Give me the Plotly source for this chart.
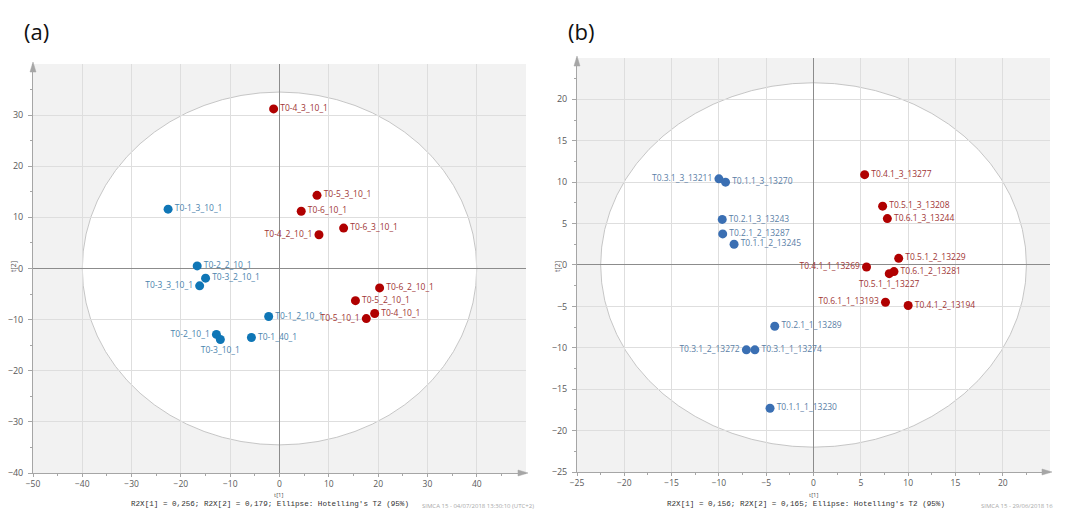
import plotly.graph_objects as go

# ---------------- data ----------------
a_names = ["T0-4_3_10_1", "T0-5_3_10_1", "T0-6_10_1", "T0-4_2_10_1", "T0-6_3_10_1",
           "T0-6_2_10_1", "T0-5_2_10_1", "T0-4_10_1", "T0-5_10_1",
           "T0-1_3_10_1", "T0-2_2_10_1", "T0-3_2_10_1", "T0-3_3_10_1", "T0-1_2_10_1",
           "T0-2_10_1", "T0-3_10_1", "T0-1_40_1"]
a_t1 = [-1.2, 7.6, 4.4, 8.0, 13.0, 20.3, 15.4, 19.3, 17.6,
        -22.6, -16.7, -15.0, -16.2, -2.2, -12.8, -12.0, -5.7]
a_t2 = [31.2, 14.3, 11.2, 6.6, 7.9, -3.8, -6.3, -8.8, -9.8,
        11.6, 0.5, -1.9, -3.4, -9.4, -12.9, -13.9, -13.5]
a_group = ["r"] * 9 + ["b"] * 8
a_textpos = ["middle right", "middle right", "middle right", "middle left", "middle right",
             "middle right", "middle right", "middle right", "middle left",
             "middle right", "middle right", "middle right", "middle left", "middle right",
             "middle left", "bottom center", "middle right"]
a_ellipse = (40.0, 34.5)
a_note = "R2X[1] = 0,256; R2X[2] = 0,179; Ellipse: Hotelling's T2 (95%)"
a_stamp = "SIMCA 15 - 04/07/2018 13:30:10 (UTC+2)"

b_names = ["T0.4.1_3_13277", "T0.5.1_3_13208", "T0.6.1_3_13244", "T0.5.1_2_13229",
           "T0.4.1_1_13269", "T0.6.1_2_13281", "T0.5.1_1_13227", "T0.6.1_1_13193",
           "T0.4.1_2_13194",
           "T0.3.1_3_13211", "T0.1.1_3_13270", "T0.2.1_3_13243", "T0.2.1_2_13287",
           "T0.1.1_2_13245", "T0.2.1_1_13289", "T0.3.1_2_13272", "T0.3.1_1_13274",
           "T0.1.1_1_13230"]
b_t1 = [5.4, 7.3, 7.8, 9.0, 5.6, 8.5, 8.0, 7.6, 10.0,
        -10.0, -9.3, -9.65, -9.6, -8.4, -4.1, -7.1, -6.2, -4.6]
b_t2 = [10.9, 7.1, 5.6, 0.8, -0.25, -0.8, -1.05, -4.5, -4.9,
        10.4, 10.0, 5.5, 3.75, 2.5, -7.4, -10.25, -10.25, -17.3]
b_group = ["r"] * 9 + ["b"] * 9
b_textpos = ["middle right", "middle right", "middle right", "middle right",
             "middle left", "middle right", "bottom center", "middle left",
             "middle right",
             "middle left", "middle right", "middle right", "middle right",
             "middle right", "middle right", "middle left", "middle right",
             "middle right"]
b_ellipse = (22.5, 22.0)
b_note = "R2X[1] = 0,156; R2X[2] = 0,165; Ellipse: Hotelling's T2 (95%)"
b_stamp = "SIMCA 15 - 29/06/2018 16"

# ---------------- styling ----------------
W, H = 1068, 510
FONT = "Open Sans"
MONO = "Liberation Mono"
BG = "#f2f2f2"
GRID = "#dedede"
AXIS = "#a6a6a6"
ZERO = "#8c8c8c"

panels = [
    dict(names=a_names, x=a_t1, y=a_t2, g=a_group, tp=a_textpos, ell=a_ellipse,
         note=a_note, stamp=a_stamp, tag="(a)",
         px=(33, 526), py=(64, 473), xr=[-50, 50], yr=[-40, 40], dt=10, mdt=5,
         cols={"b": "#0f76b6", "r": "#b00000"}, tcols={"b": "#4b84ad", "r": "#a03535"},
         tagx=22, ytitx=13, notex=270, t1x=279, stampx=536, stampanchor="right"),
    dict(names=b_names, x=b_t1, y=b_t2, g=b_group, tp=b_textpos, ell=b_ellipse,
         note=b_note, stamp=b_stamp, tag="(b)",
         px=(577, 1050), py=(58, 472), xr=[-25, 25], yr=[-25, 25], dt=5, mdt=2.5,
         cols={"b": "#3a6fb3", "r": "#b00000"}, tcols={"b": "#5a7ea6", "r": "#a03535"},
         tagx=566, ytitx=557, notex=806, t1x=814, stampx=979, stampanchor="left"),
]

fig = go.Figure()
layout = dict(width=W, height=H, margin=dict(l=0, r=0, t=0, b=0, autoexpand=False),
              paper_bgcolor="white", showlegend=False,
              font=dict(family=FONT, size=9, color="#595959"))
shapes, annotations = [], []

for i, p in enumerate(panels):
    xa = "x" if i == 0 else "x2"
    ya = "y" if i == 0 else "y2"
    xkey = "xaxis" if i == 0 else "xaxis2"
    ykey = "yaxis" if i == 0 else "yaxis2"
    for grp in ["b", "r"]:
        idx = [k for k, gg in enumerate(p["g"]) if gg == grp]
        fig.add_trace(go.Scatter(
            x=[p["x"][k] for k in idx], y=[p["y"][k] for k in idx],
            text=[p["names"][k] for k in idx],
            textposition=[p["tp"][k] for k in idx],
            mode="markers+text", xaxis=xa, yaxis=ya,
            marker=dict(size=9, color=p["cols"][grp]),
            textfont=dict(family=FONT, size=8.5, color=p["tcols"][grp]),
            cliponaxis=False, hoverinfo="skip"))
    dom_x = [p["px"][0] / W, p["px"][1] / W]
    dom_y = [1 - p["py"][1] / H, 1 - p["py"][0] / H]
    common = dict(showgrid=True, gridcolor=GRID, gridwidth=1,
                  zeroline=True, zerolinecolor=ZERO, zerolinewidth=1,
                  showline=True, linecolor=AXIS, linewidth=1,
                  ticks="outside", tickcolor=AXIS,
                  minor=dict(dtick=p["mdt"], ticks="outside", ticklen=2, tickcolor=AXIS,
                             showgrid=False),
                  dtick=p["dt"], fixedrange=True, automargin=False)
    layout[xkey] = dict(domain=dom_x, range=[p["xr"][0], p["xr"][1] - 0.01], anchor=ya,
                        ticklen=3, ticklabelstandoff=0,
                        tickfont=dict(family=FONT, size=8.5, color="#595959"), **common)
    layout[ykey] = dict(domain=dom_y, range=[p["yr"][0], p["yr"][1] - 0.01], anchor=xa,
                        ticklen=4, ticklabelstandoff=3,
                        tickfont=dict(family=FONT, size=9, color="#595959"), **common)
    # Hotelling ellipse
    ex, ey = p["ell"]
    shapes.append(dict(type="circle", xref=xa, yref=ya, x0=-ex, x1=ex, y0=-ey, y1=ey,
                       fillcolor="white", line=dict(color="#c0c0c0", width=0.9),
                       layer="below"))
    # axis arrows
    shapes.append(dict(type="path", xref=xa + " domain", yref=ya + " domain",
                       xsizemode="pixel", ysizemode="pixel", xanchor=1, yanchor=0,
                       path="M 2 0 L -8 -3 L -8 3 Z", fillcolor=AXIS,
                       line=dict(color=AXIS, width=0.5)))
    shapes.append(dict(type="path", xref=xa + " domain", yref=ya + " domain",
                       xsizemode="pixel", ysizemode="pixel", xanchor=0, yanchor=1,
                       path="M 0 2 L -3 -8 L 3 -8 Z", fillcolor=AXIS,
                       line=dict(color=AXIS, width=0.5)))
    # panel tag
    annotations.append(dict(text=p["tag"], xref="paper", yref="paper",
                            x=p["tagx"] / W, y=1 - 31 / H, xanchor="left", yanchor="middle",
                            showarrow=False, font=dict(family=FONT, size=22, color="#111111")))
    # axis titles
    annotations.append(dict(text="t[1]", xref="paper", yref="paper",
                            x=p["t1x"] / W, y=1 - 494.5 / H, xanchor="center",
                            yanchor="middle", showarrow=False, borderpad=0,
                            font=dict(family=FONT, size=6, color="#555555")))
    annotations.append(dict(text="t[2]", xref="paper", yref="paper",
                            x=p["ytitx"] / W, y=1 - 267 / H, xanchor="center",
                            yanchor="middle", textangle=-90,
                            showarrow=False, font=dict(family=FONT, size=7, color="#555555")))
    annotations.append(dict(text=p["note"], xref="paper", yref="paper",
                            x=p["notex"] / W, y=1 - 503.5 / H, xanchor="center",
                            yanchor="middle", showarrow=False, borderpad=0,
                            font=dict(family=MONO, size=7.6, color="#333333")))
    annotations.append(dict(text=p["stamp"], xref="paper", yref="paper",
                            x=p["stampx"] / W, y=1 - 506 / H, xanchor=p["stampanchor"],
                            yanchor="middle", showarrow=False,
                            font=dict(family=FONT, size=6, color="#a8a8a8")))

layout["plot_bgcolor"] = BG
layout["shapes"] = shapes
layout["annotations"] = annotations
fig.update_layout(**layout)
fig.write_html("out.html", config={"displayModeBar": False},
               post_script="document.body.style.margin='0px';")
